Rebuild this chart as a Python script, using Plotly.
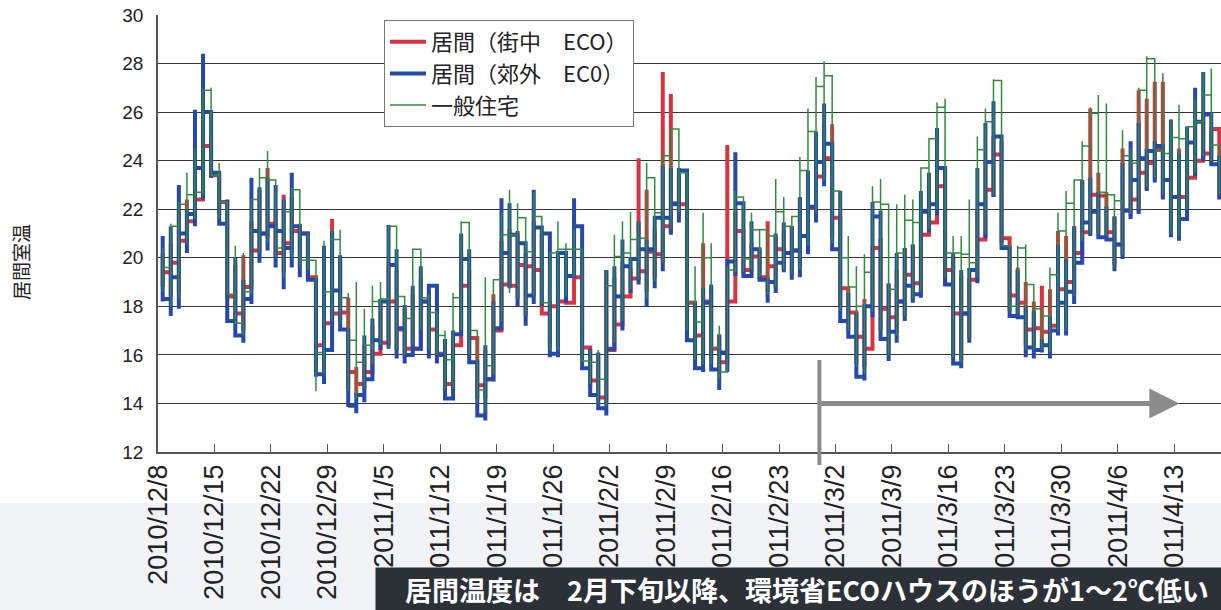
import plotly.graph_objects as go
import pandas as pd

# ---------------- data ----------------
start_date = "2010-12-08"
n_days = 132
tick_dates = pd.date_range("2010-12-08", "2011-04-13", freq="7D")

blue_hi = [20.9,21.3,23.0,22.0,26.1,28.4,26.0,23.5,22.4,20.0,
           19.1,23.3,22.9,23.3,23.0,22.4,23.5,21.3,21.0,19.0,
           20.5,21.1,20.1,17.1,14.35,16.8,17.5,18.3,21.35,20.35,
           18.05,18.85,19.65,18.85,17.8,16.65,17.0,21.0,20.35,15.7,
           16.4,18.2,22.45,22.25,21.1,20.35,22.8,21.25,18.15,20.2,
           19.95,22.45,21.3,16.25,16.1,19.5,19.65,20.75,19.95,21.5,
           20.75,21.55,23.8,23.7,23.7,23.6,18.15,18.75,18.9,16.85,
           19.95,24.35,22.25,21.5,20.35,19.1,21.0,21.45,21.3,22.5,
           23.6,25.2,26.35,24.7,22.75,18.55,17.75,18.0,22.3,21.95,
           18.95,20.2,20.4,20.55,22.75,23.5,25.35,23.7,20.2,19.5,
           18.75,23.7,25.55,26.45,25.0,20.0,19.5,18.0,17.8,16.65,
           17.6,20.55,19.95,21.3,23.2,23.3,22.7,22.1,21.7,23.9,
           24.8,25.55,24.4,24.8,24.3,25.7,24.3,25.4,27.0,27.65,
           25.9,24.2]
blue_lo = [18.2,17.6,17.9,20.2,21.3,22.4,23.3,21.4,17.4,16.8,
           16.5,18.1,19.8,20.3,19.6,18.7,19.6,19.2,19.2,15.1,
           14.8,17.0,17.05,13.85,13.6,14.05,15.0,16.2,16.25,15.85,
           15.65,16.1,16.65,15.85,15.65,14.2,14.2,16.8,15.7,13.5,
           13.3,14.9,17.1,18.75,18.0,17.2,18.1,18.0,15.9,15.9,
           18.15,19.2,15.45,14.35,13.8,13.5,16.2,17.0,18.55,18.9,
           18.0,18.75,19.45,20.95,21.45,16.6,15.45,15.3,15.4,14.55,
           15.3,19.25,19.25,19.3,19.1,18.15,18.55,19.4,19.1,19.2,
           20.15,21.45,22.95,20.35,17.4,16.75,15.1,14.95,17.55,16.65,
           15.75,16.5,17.4,18.15,18.35,21.05,21.75,18.9,15.65,15.45,
           16.5,18.95,20.8,22.5,20.4,17.6,17.55,15.9,15.85,16.1,
           15.85,16.8,16.8,18.1,20.5,20.9,20.85,20.75,19.45,19.95,
           21.6,21.8,22.75,23.1,22.4,20.85,20.7,21.85,23.35,24.0,
           23.85,22.4]
blue_end = [18.3,19.2,21.0,21.8,23.7,26.0,23.5,21.4,17.4,16.8,
            18.3,21.1,21.0,21.3,21.1,20.4,21.3,21.0,19.1,15.2,
            16.2,18.65,17.05,13.9,14.35,15.0,16.6,18.2,19.7,17.1,
            16.0,16.25,18.2,18.85,16.0,14.2,16.85,19.95,15.7,13.5,
            15.0,17.1,20.2,20.95,20.6,18.45,21.25,21.0,16.05,20.2,
            19.25,21.3,15.45,14.35,13.8,16.25,18.4,19.65,19.95,20.35,
            20.35,21.65,21.65,22.2,23.6,16.6,15.45,18.15,15.4,16.1,
            19.85,22.25,19.25,20.35,19.1,19.0,19.8,20.2,20.3,20.9,
            22.1,23.95,24.7,20.35,17.4,16.75,15.1,18.0,21.7,16.65,
            16.95,18.2,18.85,18.5,21.9,22.2,23.7,18.9,15.65,17.7,
            19.5,22.2,23.95,25.0,20.4,17.6,17.55,16.3,16.2,16.4,
            17.0,18.15,18.6,19.8,21.45,21.9,20.85,20.75,20.55,21.95,
            23.2,24.1,24.4,24.6,23.2,22.5,21.6,24.75,25.6,25.9,
            23.85,22.4]

green_hi = [20.4,21.4,22.3,23.5,24.5,26.9,27.0,23.9,22.3,20.5,
            20.2,22.4,23.7,24.4,23.1,22.4,22.9,22.8,21.0,19.0,
            20.7,21.2,21.15,18.55,19.0,17.9,18.85,19.0,21.35,21.3,
            18.4,20.35,20.35,18.5,17.8,17.0,18.55,21.5,21.45,17.0,
            19.2,19.1,21.85,22.8,22.25,21.65,22.7,21.7,20.2,21.5,
            20.6,21.2,20.35,16.2,16.2,19.5,20.95,21.5,21.9,21.5,
            23.9,23.3,24.2,25.3,25.3,23.5,19.65,21.85,20.6,17.2,
            19.65,22.75,22.5,21.85,21.15,21.15,23.25,22.5,21.7,24.15,
            26.15,27.45,28.1,27.5,22.75,20.9,19.65,20.15,22.95,23.25,
            22.2,22.2,22.6,22.4,23.7,24.9,26.4,26.55,20.9,20.9,
            22.4,25.0,26.15,27.35,27.3,20.5,20.5,20.55,18.9,17.9,
            19.6,21.85,22.75,23.2,24.8,26.2,26.7,26.35,22.6,25.25,
            24.5,27.0,28.3,28.2,27.6,25.7,26.3,25.4,26.5,27.65,
            27.8,24.65]
green_lo = [18.6,18.0,18.3,20.6,21.6,22.6,23.4,21.6,18.5,17.3,
            16.8,18.5,20.2,20.6,20.0,19.2,20.0,19.6,19.5,14.5,
            15.2,17.4,17.3,14.5,14.2,14.6,15.6,16.4,16.3,16.2,
            16.0,16.4,17.0,16.2,16.0,14.6,14.6,17.0,16.0,14.0,
            13.7,15.2,17.4,18.55,18.3,17.6,18.4,18.15,16.2,16.2,
            18.4,19.2,15.7,14.8,14.0,13.9,16.5,17.4,18.7,19.1,
            18.3,19.0,19.8,21.2,21.8,17.0,15.8,15.6,15.6,15.0,
            15.3,19.4,19.4,19.5,19.2,18.5,18.8,19.5,19.3,19.5,
            20.5,21.8,23.2,20.6,17.8,17.0,15.5,15.2,17.8,17.0,
            16.0,16.8,17.6,18.3,18.6,21.2,22.0,19.2,15.9,15.7,
            16.7,19.2,21.0,22.6,20.5,17.8,17.7,16.2,16.2,16.2,
            16.1,17.0,17.0,18.4,20.7,21.0,21.0,20.9,19.6,20.1,
            21.8,22.0,22.9,23.3,22.6,21.0,20.9,22.0,23.5,24.2,
            24.0,22.6]
green_end = [19.6,21.3,22.2,22.6,22.7,26.9,23.4,22.3,18.5,17.3,
             18.6,22.4,23.3,23.2,20.4,21.9,22.8,19.9,19.9,16.1,
             18.6,20.75,18.35,16.6,15.7,16.4,18.2,18.3,21.3,18.4,
             17.5,20.35,18.35,17.75,16.8,15.8,18.35,21.45,17.0,14.55,
             15.55,19.1,20.95,20.95,21.65,20.25,21.7,18.15,20.2,20.35,
             20.35,20.35,15.75,15.7,15.0,18.85,20.05,20.2,20.75,20.8,
             23.3,21.85,24.2,25.3,23.5,18.2,17.35,20.0,16.3,15.3,
             19.5,22.5,19.95,21.15,21.15,20.9,21.9,21.3,21.7,23.6,
             25.2,27.05,27.5,22.75,20.0,18.8,18.0,19.4,22.3,22.2,
             18.7,20.2,21.55,21.45,23.7,24.9,26.2,20.2,20.2,20.15,
             19.8,24.45,25.6,27.3,20.5,18.0,20.4,18.9,17.9,17.6,
             19.3,21.1,22.25,23.2,24.6,25.95,22.7,22.6,22.35,24.2,
             23.9,26.9,28.2,24.4,24.3,24.95,24.9,25.4,25.6,26.7,
             24.65,24.2]

red_hi = [20.2,20.6,22.0,22.4,23.5,25.5,25.0,23.4,22.0,19.7,
          20.1,21.5,22.8,23.7,22.0,22.6,22.5,21.4,21.0,19.1,
          19.5,21.6,19.9,18.35,15.5,16.4,17.2,18.3,19.8,19.5,
          17.9,18.5,19.2,18.6,17.8,16.6,16.8,20.2,19.5,16.7,
          16.2,18.5,20.7,21.2,21.0,20.2,21.5,21.0,18.2,20.0,
          19.9,21.5,20.0,16.3,16.0,19.5,19.2,19.8,19.6,24.1,
          22.8,21.2,27.65,26.75,23.4,22.6,18.15,20.6,18.8,16.8,
          24.65,21.9,21.1,20.6,20.3,21.5,20.9,21.1,21.3,22.5,
          23.4,24.0,25.5,25.5,21.6,18.7,17.75,18.3,20.4,20.8,
          18.9,19.5,20.4,20.55,21.8,23.0,24.6,23.7,20.05,19.25,
          19.1,22.0,24.0,25.0,24.8,20.5,19.6,19.0,18.2,18.85,
          18.7,21.1,20.9,21.3,23.2,26.15,23.5,22.7,21.7,24.5,
          24.0,26.9,26.55,27.25,27.25,24.85,24.5,23.8,25.5,26.0,
          25.3,24.2]
red_lo = [18.8,18.4,18.6,20.6,21.8,22.4,23.3,21.8,18.3,17.3,
          17.0,18.8,20.2,20.8,20.0,19.4,20.2,19.6,19.3,15.6,
          15.5,17.4,17.3,14.6,14.3,14.6,15.6,16.3,16.4,16.2,
          15.9,16.2,16.8,16.2,15.9,14.5,14.5,17.0,16.0,14.2,
          14.2,15.2,17.2,18.8,18.3,17.6,18.4,17.7,16.3,16.3,
          18.15,19.2,16.0,14.6,14.1,14.0,16.6,17.4,18.6,19.2,
          18.6,19.2,19.8,21.0,21.8,17.2,15.9,15.8,15.8,15.3,
          15.7,18.2,19.3,19.4,19.2,18.6,18.8,19.5,19.3,19.6,
          20.6,22.9,23.3,20.8,18.0,17.0,15.6,15.5,17.6,17.0,
          16.0,16.9,17.6,18.3,18.6,21.2,21.9,19.0,15.9,15.8,
          16.7,19.2,20.9,22.5,20.6,17.8,17.6,16.4,16.3,16.3,
          16.2,17.2,17.1,18.5,20.6,21.0,21.0,20.8,19.7,20.1,
          21.7,21.9,22.8,23.2,22.5,21.0,20.9,22.0,23.4,24.1,
          23.9,22.5]
red_end = [19.4,19.8,20.7,21.5,22.4,24.6,23.4,22.3,18.4,17.7,
           18.8,20.3,21.0,21.4,20.2,20.6,21.1,21.0,19.2,16.4,
           17.3,17.7,17.75,15.3,14.8,15.3,16.05,16.5,18.2,17.05,
           16.25,16.25,18.2,17.05,16.05,14.8,16.4,18.85,16.7,14.75,
           15.0,17.0,18.9,18.85,19.7,19.65,19.5,17.7,18.0,18.2,
           18.15,19.2,16.3,14.95,14.25,16.2,17.25,18.4,19.15,19.45,
           20.25,20.15,21.3,22.25,22.2,18.15,16.8,18.2,16.25,15.7,
           18.2,21.1,19.5,20.05,19.2,19.65,20.35,20.2,20.3,20.9,
           22.05,23.35,24.1,21.65,18.75,17.75,16.75,16.25,20.4,17.9,
           17.55,18.2,19.3,18.95,20.95,21.45,22.95,19.5,17.7,17.7,
           19.1,20.75,22.8,24.25,20.8,18.45,18.15,17.05,17.1,16.95,
           17.2,18.7,19.0,20.2,21.05,22.6,22.55,21.05,20.55,21.95,
           22.4,23.5,23.9,24.45,23.2,22.5,22.5,23.3,24.0,24.3,
           25.3,23.8]

series_names = ["居間（街中　ECO）", "居間（郊外　EC0）", "一般住宅"]
y_title = "居間室温"
banner_text = "居間温度は　2月下旬以降、環境省ECOハウスのほうが1～2℃低い"
arrow_start = "2011-02-28"
arrow_end = "2011-04-13 15:00"
arrow_level = 14

# ---------------- build ----------------
days = pd.date_range(start_date, periods=n_days, freq="D") + pd.Timedelta(hours=14)
x_lo = pd.Timestamp(start_date)
x_hi = pd.Timestamp("2011-04-18 19:00")


def build(hi, lo, end):
    xs, ys = [], []
    for i, d in enumerate(days):
        if i > 0:
            xs.append(d); ys.append(end[i - 1])
        xs += [d, d, d]
        ys += [hi[i], lo[i], end[i]]
    return xs, ys


fig = go.Figure()
styles = [("#d9333f", 4), ("#2548ab", 4), ("#2f8c3c", 1.5)]
for name, (col, w), (hi, lo, end) in zip(
        series_names, styles,
        [(red_hi, red_lo, red_end), (blue_hi, blue_lo, blue_end), (green_hi, green_lo, green_end)]):
    xs, ys = build(hi, lo, end)
    fig.add_trace(go.Scatter(x=xs, y=ys, mode="lines", name=name,
                             line=dict(color=col, width=w)))

tick_text = [f"{d.year}/{d.month}/{d.day}" for d in tick_dates]

fig.update_xaxes(type="date", range=[x_lo, x_hi], tickvals=list(tick_dates), ticktext=tick_text,
                 tickangle=-90, ticks="inside", ticklen=8, tickcolor="#555",
                 showline=True, linecolor="#555", linewidth=1.5, showgrid=False,
                 tickfont=dict(family="Liberation Sans, Arial", size=27, color="#222"),
                 ticklabelstandoff=0)
fig.update_yaxes(range=[12, 30], dtick=2, showgrid=True, gridcolor="#353535", gridwidth=1,
                 showline=True, linecolor="#555", linewidth=1.5, zeroline=False,
                 tickfont=dict(family="Liberation Sans, Arial", size=19, color="#222"),
                 ticklabelstandoff=9)

W, H = 1221, 610
L, R, T, B = 158, 0, 15, 158
pw, ph = W - L - R, H - T - B


def px_x(p):
    return (p - L) / pw


def px_y(p):
    return (H - B - p) / ph


def date_paper(d):
    return (pd.Timestamp(d) - x_lo) / (x_hi - x_lo)


shapes = [
    dict(type="rect", xref="paper", yref="paper", x0=px_x(0), x1=1, y0=px_y(610), y1=px_y(503),
         fillcolor="#f2f3f6", line=dict(width=0), layer="below"),
    dict(type="line", xref="paper", yref="paper", x0=date_paper(arrow_start), x1=date_paper(arrow_start),
         y0=px_y(465), y1=px_y(360), line=dict(color="#8c8c8c", width=4)),
]

annotations = [
    dict(xref="paper", yref="paper", x=px_x(20), y=px_y(262), xanchor="center", yanchor="middle",
         text=y_title, showarrow=False, textangle=-90,
         font=dict(family="Noto Sans CJK JP", size=19, color="#222")),
    dict(x=pd.Timestamp(arrow_end), y=arrow_level, ax=pd.Timestamp(arrow_start), ay=arrow_level,
         xref="x", yref="y", axref="x", ayref="y", text="", showarrow=True,
         arrowhead=2, arrowsize=1.2, arrowwidth=5, arrowcolor="#8c8c8c"),
    dict(xref="paper", yref="paper", x=px_x(375), y=px_y(567), xanchor="left", yanchor="top",
         text=" ", showarrow=False, width=W - 375, height=43, bgcolor="#2c3037", borderpad=0,
         font=dict(size=10)),
    dict(xref="paper", yref="paper", x=px_x(403), y=px_y(589), xanchor="left", yanchor="middle",
         text="<b>" + banner_text + "</b>", showarrow=False,
         font=dict(family="Noto Sans CJK JP", size=27, color="white")),
]

fig.update_layout(
    width=W, height=H, margin=dict(l=L, r=R, t=T, b=B),
    paper_bgcolor="white", plot_bgcolor="white",
    shapes=shapes, annotations=annotations,
    legend=dict(x=px_x(384), y=px_y(20), xanchor="left", yanchor="top",
                bgcolor="white", bordercolor="#777", borderwidth=1,
                font=dict(family="Noto Sans CJK JP", size=22, color="#222"),
                itemwidth=36, tracegroupgap=0),
)

fig.write_html("out.html", config={"displayModeBar": False},
               post_script="document.body.style.margin='0';document.body.style.overflow='hidden';")
